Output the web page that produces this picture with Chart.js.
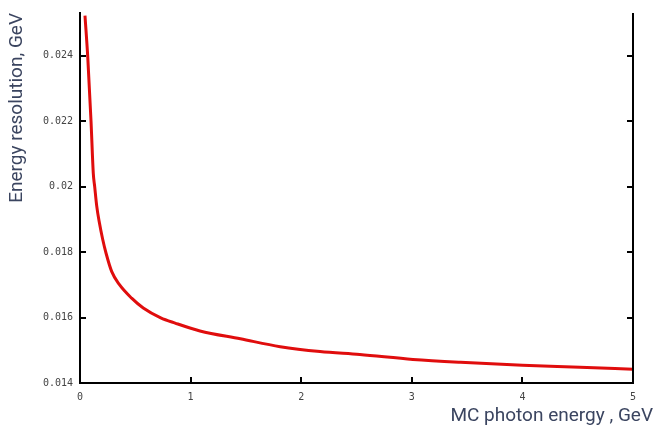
<!DOCTYPE html>
<html>
<head>
<meta charset="utf-8">
<script src="https://cdn.jsdelivr.net/npm/chart.js@4/dist/chart.umd.min.js"></script>
<style>
  html, body { margin: 0; padding: 0; background: #fff; }
  #wrap { width: 656px; height: 426px; position: relative; }
</style>
</head>
<body>
<div id="wrap"><canvas id="resChart" width="656" height="426"></canvas></div>
<script>
// values
var energy = [0.045, 0.07, 0.10, 0.120, 0.133, 0.151, 0.175, 0.205, 0.235, 0.287, 0.355, 0.467, 0.572, 0.73, 0.86, 1.085, 1.45, 1.81, 2.17, 2.53, 3.01, 3.44, 4.0, 4.52, 5.0];
var resolution = [0.02522, 0.02396, 0.02197, 0.02041, 0.01999, 0.01941, 0.01890, 0.01839, 0.01797, 0.01740, 0.01701, 0.01659, 0.01629, 0.01599, 0.01583, 0.01559, 0.01535, 0.01511, 0.01496, 0.01487, 0.01472, 0.01463, 0.01454, 0.01448, 0.01442];
var xTicks = [0, 1, 2, 3, 4, 5];
var yTicks = [0.014, 0.016, 0.018, 0.02, 0.022, 0.024];
var yTickLabels = ['0.014', '0.016', '0.018', '0.02', '0.022', '0.024'];

var points = energy.map(function (e, i) { return { x: e, y: resolution[i] }; });

// inward tick marks + right frame line, like the gnuplot original
var frameTicks = {
  id: 'frameTicks',
  afterDraw: function (chart) {
    var c = chart.ctx, a = chart.chartArea;
    var xs = chart.scales.x, ys = chart.scales.y;
    c.save();
    c.strokeStyle = '#000';
    c.lineWidth = 2;
    c.beginPath();
    c.moveTo(a.right, a.top);
    c.lineTo(a.right, a.bottom + 1);
    yTicks.forEach(function (v) {
      var py = Math.round(ys.getPixelForValue(v));
      c.moveTo(a.left, py); c.lineTo(a.left + 6, py);
      c.moveTo(a.right, py); c.lineTo(a.right - 6, py);
    });
    xTicks.forEach(function (v) {
      var px = Math.round(xs.getPixelForValue(v));
      c.moveTo(px, a.bottom); c.lineTo(px, a.bottom - 6);
    });
    c.stroke();
    // x axis title, hangs past the frame on the right
    c.fillStyle = '#3b4560';
    c.font = '19px Roboto';
    c.textAlign = 'right';
    c.textBaseline = 'alphabetic';
    c.fillText('MC photon energy , GeV', 653, 421);
    c.restore();
  }
};

var ctx = document.getElementById('resChart').getContext('2d');
var chart = new Chart(ctx, {
  type: 'line',
  data: {
    datasets: [
      {
        data: points,
        borderColor: '#e00d0d',
        borderWidth: 3,
        pointRadius: 0,
        fill: false,
        cubicInterpolationMode: 'monotone',
      },
    ],
  },
  options: {
    responsive: false,
    animation: false,
    layout: { padding: { top: 8, right: 23, left: 0, bottom: 0 } },
    plugins: {
      legend: { display: false },
      tooltip: { enabled: false },
    },
    scales: {
      x: {
        type: 'linear',
        min: 0,
        max: 5,
        afterBuildTicks: function (s) { s.ticks = xTicks.map(function (v) { return { value: v }; }); },
        afterFit: function (s) { s.height = 43; },
        grid: { display: false, drawTicks: false },
        border: { display: true, color: '#000', width: 2 },
        ticks: {
          padding: 8,
          maxRotation: 0,
          color: '#444',
          font: { family: 'DejaVu Sans Mono', size: 10 },
        },
      },
      y: {
        type: 'linear',
        min: 0.014,
        max: 0.0253,
        afterBuildTicks: function (s) { s.ticks = yTicks.map(function (v) { return { value: v }; }); },
        afterFit: function (s) { s.width = 80; },
        grid: { display: false, drawTicks: false },
        border: { display: true, color: '#000', width: 2 },
        ticks: {
          padding: 7,
          color: '#444',
          font: { family: 'DejaVu Sans Mono', size: 10 },
          callback: function (v) {
            var i = yTicks.findIndex(function (t) { return Math.abs(t - v) < 1e-9; });
            return i >= 0 ? yTickLabels[i] : '';
          },
        },
        title: {
          display: true,
          text: 'Energy resolution, GeV',
          align: 'end',
          color: '#3b4560',
          padding: { top: 6, bottom: 0 },
          font: { family: 'Roboto', size: 19 },
        },
      },
    },
  },
  plugins: [frameTicks],
});
</script>
</body>
</html>
